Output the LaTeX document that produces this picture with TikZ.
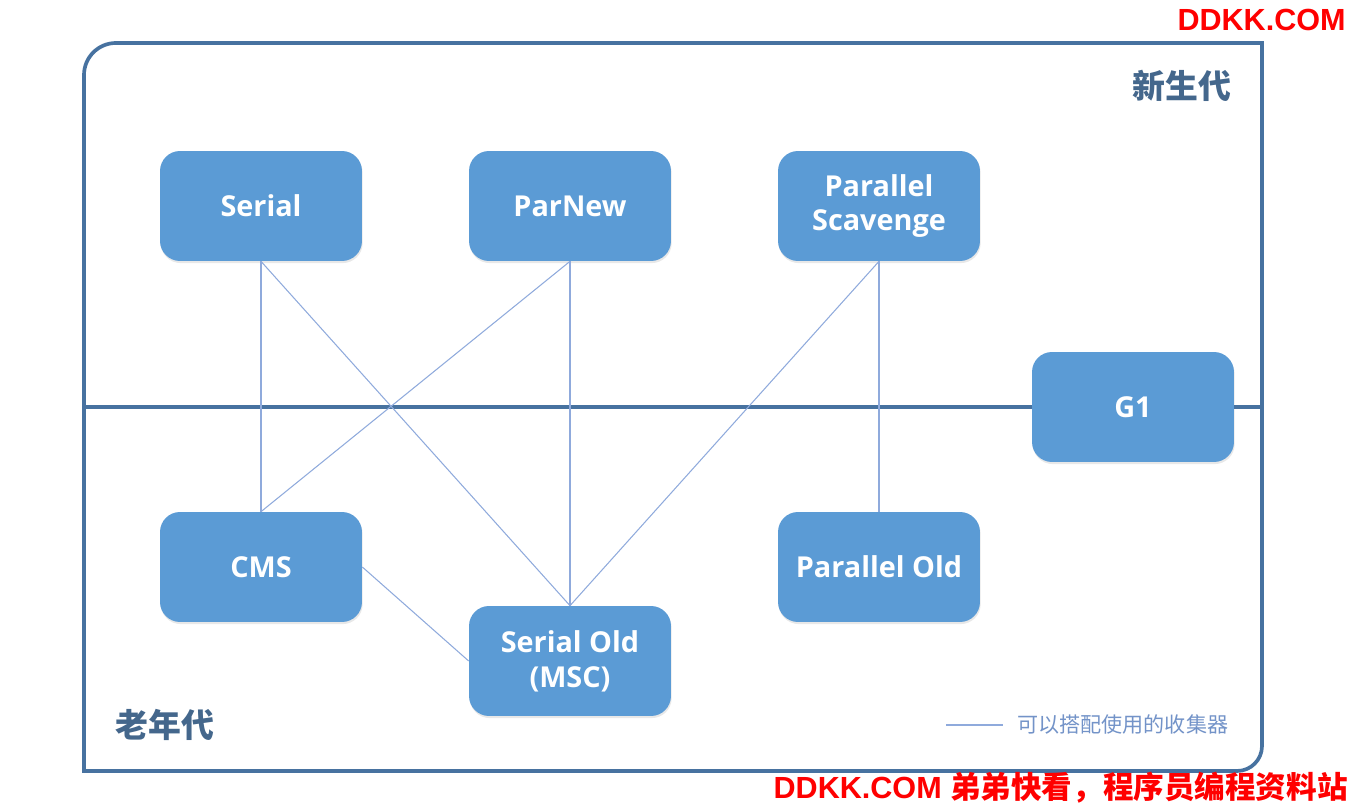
\documentclass[tikz,border=0pt]{standalone}
\usepackage{fontspec}
\setmainfont{Open Sans}
\newfontfamily\cjk{Noto Sans CJK SC}
\newfontfamily\wmfont{Liberation Sans}
\usepackage{tikz}
\usetikzlibrary{calc}
\usetikzlibrary{shadows}

\definecolor{boxblue}{HTML}{5B9BD5}
\definecolor{framecol}{HTML}{4772A0}
\definecolor{gencol}{HTML}{44678C}
\definecolor{linkcol}{HTML}{8FAADC}
\definecolor{legcol}{HTML}{7393C8}

\begin{document}
\begin{tikzpicture}[x=0.02cm, y=-0.02cm,
	gc/.style={rectangle, rounded corners=0.4cm, fill=boxblue, text=white,
		font=\bfseries\fontsize{16.4}{19.8}\selectfont, align=center, inner sep=0,
		minimum width=4.04cm, minimum height=2.2cm,
		drop shadow={opacity=0.18, shadow xshift=0.4pt, shadow yshift=-1.2pt}},
	link/.style={linkcol, line width=0.6pt},
	frame/.style={framecol, line width=2.1pt},
	gen/.style={text=gencol, font=\cjk\bfseries\fontsize{18.7}{22}\selectfont, inner sep=0},
	wm/.style={text=red, font=\wmfont\bfseries\fontsize{17.4}{20}\selectfont, inner sep=0}]
			\useasboundingbox (0,0) rectangle (1350,803);

			% frame, rounded top left and bottom right
			\draw[frame] (84,771) -- (84,75) to[out=90,in=180] (116,43) -- (1262,43) -- (1262,746) to[out=-90,in=0] (1237,771) -- cycle;

			\node[gc] (serial) at (261,206) {Serial};
			\node[gc] (parnew) at ($(serial)+(309,0)$) {ParNew};
			\node[gc] (pscav) at ($(parnew)+(309,0)$) {Parallel\\Scavenge};
			\node[gc] (g1) at (1133,407) {G1};
			\node[gc] (cms) at ($(serial)+(0,361)$) {CMS};
			\node[gc] (pold) at ($(pscav)+(0,361)$) {Parallel Old};
			\node[gc] (sold) at ($(parnew)+(0,455)$) {Serial Old\\(MSC)};

			\coordinate (divl) at (84,407);
			\coordinate (divr) at (1262,407);
			\draw[frame, line width=1.8pt] (divl) -- (g1.west);
			\draw[frame, line width=1.8pt] (g1.east) -- (divr);

			\node[gen] (young) at (1182,86) {新生代};
			\node[gen] (old) at (165,725) {老年代};

			\draw[link] (serial.south) -- (cms.north);
			\draw[link] (serial.south) -- (sold.north);
			\draw[link] (parnew.south) -- (cms.north);
			\draw[link] (parnew.south) -- (sold.north);
			\draw[link] (pscav.south) -- (sold.north);
			\draw[link] (pscav.south) -- (pold.north);
			\draw[link] (cms.east) -- (sold.west);

			% legend
			\coordinate (lega) at (946,725);
			\coordinate (legb) at (1003,725);
			\node[text=legcol, font=\cjk\fontsize{12}{14}\selectfont, inner sep=0, anchor=west] (legtext) at (1017,725) {可以搭配使用的收集器};
			\draw[link, line width=0.9pt] (lega) -- (legb);

			% watermarks
			\node[wm, anchor=east] (wmtop) at (1346,20) {DDKK.COM};
			\node[wm, anchor=east] (wmbot) at (1348,788) {DDKK.COM {\cjk\bfseries 弟弟快看，程序员编程资料站}};
		\end{tikzpicture}
\end{document}
